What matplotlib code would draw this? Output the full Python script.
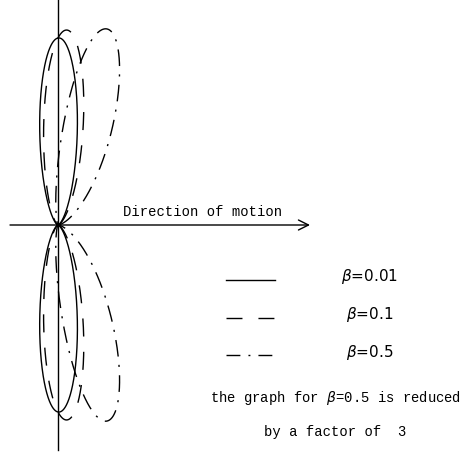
import numpy as np
import matplotlib
matplotlib.use("Agg")
import matplotlib.pyplot as plt
from matplotlib.lines import Line2D

# ---- data ----
betas = [0.01, 0.1, 0.5]
reduction = [1, 1, 3]
labels = [r"$\beta$=0.01", r"$\beta$=0.1", r"$\beta$=0.5"]
dash_patterns = [None, (13, 11), (12, 6, 1.5, 6)]
legend_dashes = [None, (11.5, 11.5), (10, 5.8, 1.4, 5.8)]

W, H = 461, 453
fig = plt.figure(figsize=(W / 100, H / 100), dpi=100)
ax = fig.add_axes([0, 0, 1, 1])
ax.set_axis_off()

# pixel mapping: origin at (58, 225), x: 49 px/unit, y: 187 px/unit
ox, oy, sx, sy = 58, 225, 49.0, 187.0
ax.set_xlim((0 - ox) / sx, (W - ox) / sx)
ax.set_ylim((oy - H) / sy, oy / sy)

theta = np.linspace(0, 2 * np.pi, 1500)
for b, f, dp in zip(betas, reduction, dash_patterns):
    r = np.sin(theta) ** 2 / (1 - b * np.cos(theta)) ** 5 / f
    ln, = ax.plot(r * np.cos(theta), r * np.sin(theta), color="black", lw=1.0)
    if dp is not None:
        ln.set_dashes(dp)

# axes
ax.plot([0, 0], [oy / sy, (oy - 450) / sy], color="black", lw=1.0)
ax.annotate("", xy=((310 - ox) / sx, 0), xytext=((10 - ox) / sx, 0),
            arrowprops=dict(arrowstyle="->", color="black", lw=1.0,
                            shrinkA=0, shrinkB=0, mutation_scale=18))

mono = "Liberation Mono"
def fx(px):
    return px / W
def fy(py):
    return 1 - py / H

ax.text(fx(203), fy(212), "Direction of motion", family=mono, fontsize=10,
        ha="center", va="center", transform=ax.transAxes)

# legend
leg_y = [280, 318, 355]
lab_y = [277, 315, 352]
for yy, ly, lab, dp in zip(leg_y, lab_y, labels, legend_dashes):
    ln = Line2D([fx(226), fx(275)], [fy(yy), fy(yy)], color="black", lw=1.0,
                transform=ax.transAxes)
    if dp is not None:
        ln.set_dashes(dp)
    ax.add_line(ln)
    ax.text(fx(370), fy(ly), lab, family="DejaVu Sans", fontsize=11,
            ha="center", va="center", transform=ax.transAxes)

ax.text(fx(336), fy(398), r"the graph for $\beta$=0.5 is reduced", family=mono,
        fontsize=10, ha="center", va="center", transform=ax.transAxes)
ax.text(fx(335), fy(432), "by a factor of  3", family=mono,
        fontsize=10, ha="center", va="center", transform=ax.transAxes)

fig.savefig("out.png", dpi=100)
